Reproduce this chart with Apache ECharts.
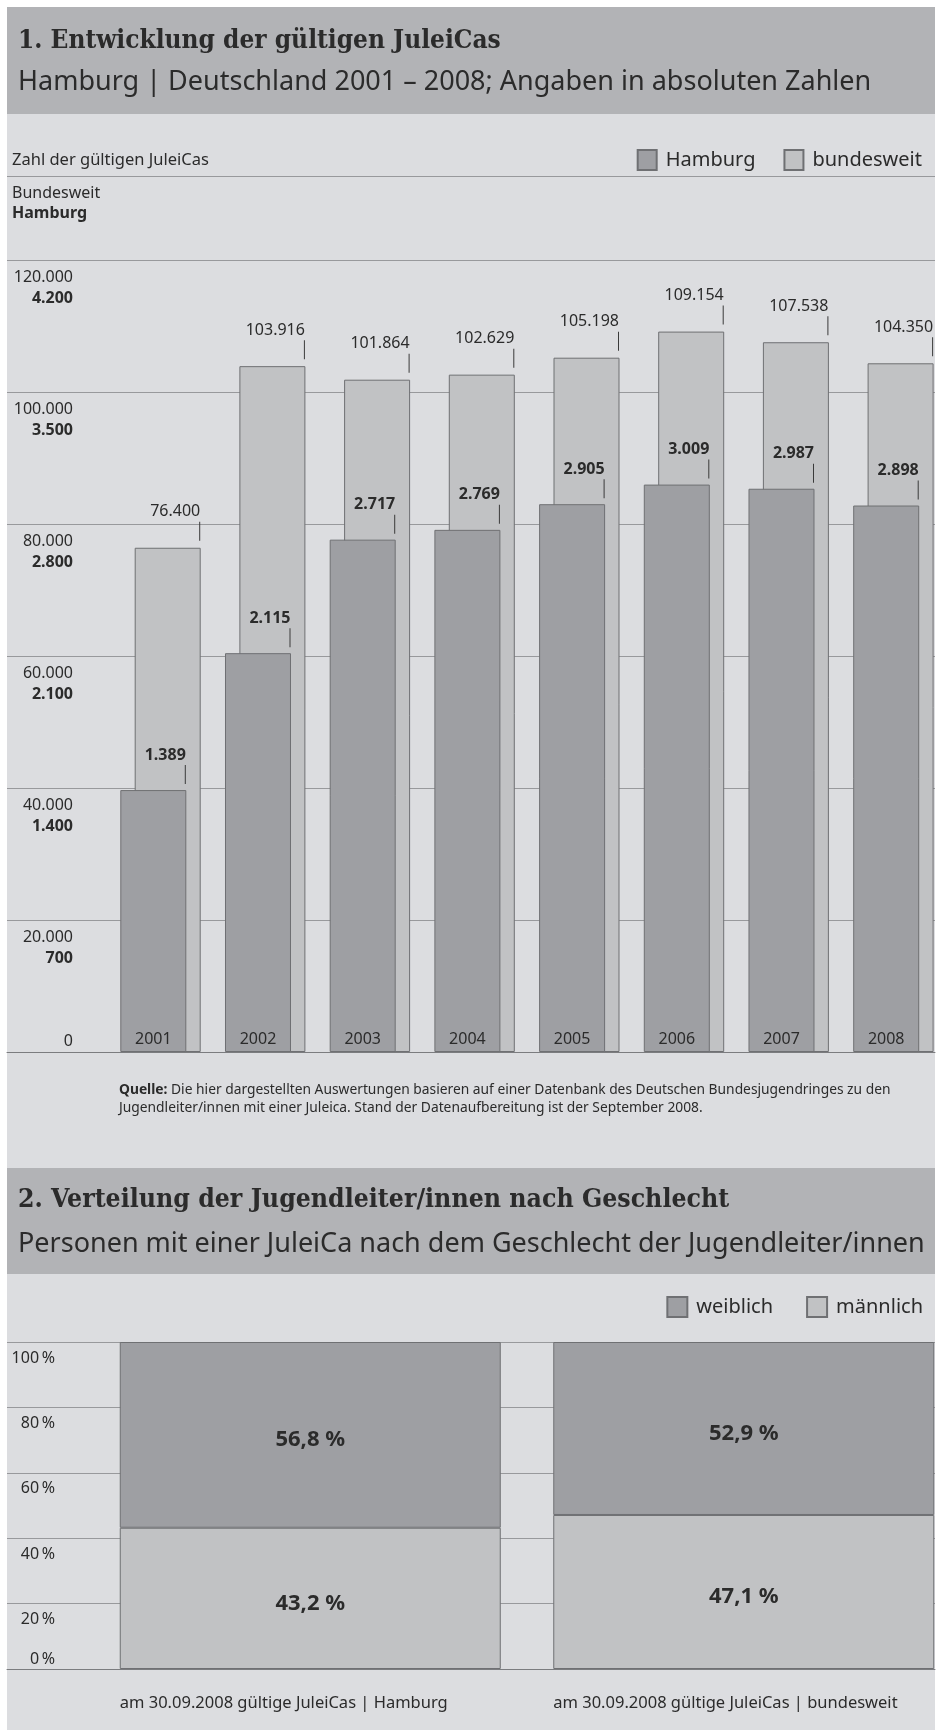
<!DOCTYPE html>
<html>
<head>
<meta charset="utf-8">
<script src="https://cdn.jsdelivr.net/npm/echarts@6/dist/echarts.min.js"></script>
<style>
  html, body { margin: 0; padding: 0; background: #ffffff; }
  #chart { width: 938px; height: 1730px; }
</style>
</head>
<body>
<div id="chart"></div>
<script>
// ---------- data ----------
const years = ['2001', '2002', '2003', '2004', '2005', '2006', '2007', '2008'];
const hamburg = [1389, 2115, 2717, 2769, 2905, 3009, 2987, 2898];
const bundesweit = [76400, 103916, 101864, 102629, 105198, 109154, 107538, 104350];
const ticksBund = [0, 20000, 40000, 60000, 80000, 100000, 120000];
const ticksHH = [0, 700, 1400, 2100, 2800, 3500, 4200];

const genderCats = ['am 30.09.2008 gültige JuleiCas | Hamburg', 'am 30.09.2008 gültige JuleiCas | bundesweit'];
const weiblich = [56.8, 52.9];
const maennlich = [43.2, 47.1];
const pctTicks = [0, 20, 40, 60, 80, 100];

// ---------- styles ----------
const FONT = '"Noto Sans", "Open Sans", sans-serif';
const SERIF = '"DejaVu Serif Condensed", "Liberation Serif", serif';
const TXT = '#2b2b2b';
const PANEL = '#dcdde0';
const HEAD = '#b2b3b6';
const DARK = '#9e9fa3';
const LIGHT = '#c1c2c4';
const BORDER = '#6f7073';
const GRIDC = '#98999c';
const BASEC = '#7b7c7f';

function de(n) { return String(n).replace(/\B(?=(\d{3})+(?!\d))/g, '.'); }

const chart = echarts.init(document.getElementById('chart'), null, { renderer: 'canvas' });

const option = {
  backgroundColor: '#ffffff',
  animation: false,
  graphic: [
    { type: 'rect', z: -10, shape: { x: 7, y: 7, width: 928, height: 1723 }, style: { fill: PANEL } },
    { type: 'rect', z: -9, shape: { x: 7, y: 7, width: 928, height: 107 }, style: { fill: HEAD } },
    { type: 'rect', z: -9, shape: { x: 7, y: 1168, width: 928, height: 106 }, style: { fill: HEAD } },
    { type: 'line', z: -8, shape: { x1: 7, y1: 176.5, x2: 935, y2: 176.5 }, style: { stroke: GRIDC, lineWidth: 1 } }
  ],
  title: [
    { text: '1. Entwicklung der gültigen JuleiCas', left: 18, top: 25, padding: 0,
      textStyle: { fontFamily: SERIF, fontWeight: 'bold', fontSize: 26, lineHeight: 32, color: TXT } },
    { text: 'Hamburg | Deutschland 2001 – 2008; Angaben in absoluten Zahlen', left: 18, top: 66, padding: 0,
      textStyle: { fontFamily: FONT, fontWeight: 'normal', fontSize: 27, lineHeight: 32, color: TXT } },
    { text: 'Zahl der gültigen JuleiCas', left: 12, top: 150, padding: 0,
      textStyle: { fontFamily: FONT, fontWeight: 'normal', fontSize: 16.5, lineHeight: 20, color: TXT } },
    { text: '{b|Quelle:} Die hier dargestellten Auswertungen basieren auf einer Datenbank des Deutschen Bundesjugendringes zu den\nJugendleiter/innen mit einer Juleica. Stand der Datenaufbereitung ist der September 2008.',
      left: 119, top: 1081, padding: 0,
      textStyle: { fontFamily: FONT, fontWeight: 'normal', fontSize: 13.8, lineHeight: 18, color: TXT,
        rich: { b: { fontFamily: FONT, fontWeight: 'bold', fontSize: 13.8, lineHeight: 18, color: TXT } } } },
    { text: '2. Verteilung der Jugendleiter/innen nach Geschlecht', left: 18, top: 1184, padding: 0,
      textStyle: { fontFamily: SERIF, fontWeight: 'bold', fontSize: 26.4, lineHeight: 32, color: TXT } },
    { text: 'Personen mit einer JuleiCa nach dem Geschlecht der Jugendleiter/innen', left: 18, top: 1228, padding: 0,
      textStyle: { fontFamily: FONT, fontWeight: 'normal', fontSize: 27, lineHeight: 32, color: TXT } }
  ],
  legend: [
    { data: ['Hamburg', 'bundesweit'], right: 11, top: 144, icon: 'rect', itemWidth: 19, itemHeight: 20, itemGap: 28,
      textStyle: { fontFamily: FONT, fontSize: 20, color: TXT, padding: [0, 0, 0, 4] } },
    { data: ['weiblich', 'männlich'], right: 10, top: 1291, icon: 'rect', itemWidth: 20, itemHeight: 20, itemGap: 33,
      textStyle: { fontFamily: FONT, fontSize: 20, color: TXT, padding: [0, 0, 0, 4] } }
  ],
  grid: [
    { left: 7, width: 928, top: 260, height: 792, outerBoundsMode: 'none' },          // 0: chart 1 gridlines & labels
    { left: 108.15, width: 837.6, top: 260, height: 792, outerBoundsMode: 'none' },   // 1: chart 1 bars
    { left: 7, width: 928, top: 1342, height: 327, outerBoundsMode: 'none' },         // 2: chart 2 gridlines & labels
    { left: 93.5, width: 867, top: 1342, height: 327, outerBoundsMode: 'none' }       // 3: chart 2 bars
  ],
  xAxis: [
    { gridIndex: 0, type: 'value', position: 'bottom', min: 0, max: 1, axisLabel: { show: false }, axisTick: { show: false },
      splitLine: { show: false }, axisLine: { show: true, lineStyle: { color: BASEC, width: 1 } } },
    { gridIndex: 1, type: 'category', position: 'bottom', data: years, z: 10, axisLine: { show: false }, axisTick: { show: false },
      axisLabel: { inside: true, margin: 3, padding: [0, 14.4, 0, 0], fontFamily: FONT, fontSize: 16, lineHeight: 20, color: TXT } },
    { gridIndex: 2, type: 'value', position: 'bottom', min: 0, max: 1, axisLabel: { show: false }, axisTick: { show: false },
      splitLine: { show: false }, axisLine: { show: true, lineStyle: { color: BASEC, width: 1 } } },
    { gridIndex: 3, type: 'category', position: 'bottom', data: genderCats, axisLine: { show: false }, axisTick: { show: false },
      axisLabel: { margin: 24, formatter: v => '{c|' + v + '}',
        rich: { c: { width: 381, align: 'left', fontFamily: FONT, fontSize: 16.5, lineHeight: 20, color: TXT } } } }
  ],
  yAxis: [
    { gridIndex: 0, type: 'value', position: 'left', min: 0, max: 120000, interval: 20000,
      axisLine: { show: false }, axisTick: { show: false },
      splitLine: { show: true, lineStyle: { color: GRIDC, width: 1 } },
      name: '{a|Bundesweit}\n{b|Hamburg}', nameLocation: 'end', nameGap: 37,
      nameTextStyle: { align: 'left', verticalAlign: 'bottom', padding: [0, 0, 0, 5],
        rich: { a: { fontFamily: FONT, fontSize: 16, lineHeight: 20, color: TXT },
                b: { fontFamily: FONT, fontSize: 16, fontWeight: 'bold', lineHeight: 20, color: TXT } } },
      axisLabel: { inside: true, margin: 66, align: 'right', verticalAlign: 'top', padding: [7, 0, 0, 0],
        formatter: function (v) {
          if (v === 0) return '';
          const i = ticksBund.indexOf(v);
          return '{a|' + de(v) + '}\n{b|' + de(ticksHH[i]) + '}';
        },
        rich: { a: { fontFamily: FONT, fontSize: 16, lineHeight: 21, color: TXT, align: 'right' },
                b: { fontFamily: FONT, fontSize: 16, fontWeight: 'bold', lineHeight: 21, color: TXT, align: 'right' } } } },
    { gridIndex: 0, type: 'value', position: 'left', min: 0, max: 120000, interval: 20000,
      axisLine: { show: false }, axisTick: { show: false }, splitLine: { show: false },
      axisLabel: { inside: true, margin: 66, align: 'right', verticalAlign: 'bottom',
        formatter: v => (v === 0 ? de(ticksBund[0]) : ''),
        fontFamily: FONT, fontSize: 16, lineHeight: 21, color: TXT } },
    { gridIndex: 1, type: 'value', position: 'left', min: 0, max: 120000, show: false },
    { gridIndex: 1, type: 'value', position: 'left', min: 0, max: 4200, show: false },
    { gridIndex: 2, type: 'value', position: 'left', min: 0, max: 100, interval: 20,
      axisLine: { show: false }, axisTick: { show: false },
      splitLine: { show: true, lineStyle: { color: GRIDC, width: 1 } },
      axisLabel: { inside: true, margin: 48, align: 'right', verticalAlign: 'top', padding: [6, 0, 0, 0],
        formatter: v => (v === 0 ? '' : v + '\u202f%'),
        fontFamily: FONT, fontSize: 16, lineHeight: 20, color: TXT } },
    { gridIndex: 2, type: 'value', position: 'left', min: 0, max: 100, interval: 20,
      axisLine: { show: false }, axisTick: { show: false }, splitLine: { show: false },
      axisLabel: { inside: true, margin: 48, align: 'right', verticalAlign: 'bottom',
        formatter: v => (v === 0 ? pctTicks[0] + '\u202f%' : ''),
        fontFamily: FONT, fontSize: 16, lineHeight: 20, color: TXT } },
    { gridIndex: 3, type: 'value', position: 'left', min: 0, max: 100, show: false }
  ],
  series: [
    { name: 'Hamburg', type: 'bar', xAxisIndex: 1, yAxisIndex: 3, data: hamburg, z: 3,
      barWidth: 66, barGap: '-78.18%',
      itemStyle: { color: DARK, borderColor: BORDER, borderWidth: 1 },
      label: { show: true, position: ['100%', 0], align: 'right', verticalAlign: 'bottom', offset: [-0.5, -6],
        formatter: p => '{v|' + de(p.value) + '}\n{t| }',
        rich: { v: { fontFamily: FONT, fontSize: 16, fontWeight: 'bold', lineHeight: 20, color: TXT },
                t: { width: 1, height: 19, lineHeight: 19, fontSize: 1, backgroundColor: '#3a3a3a' } } } },
    { name: 'bundesweit', type: 'bar', xAxisIndex: 1, yAxisIndex: 2, data: bundesweit, z: 2,
      barWidth: 66, barGap: '-78.18%',
      itemStyle: { color: LIGHT, borderColor: BORDER, borderWidth: 1 },
      label: { show: true, position: ['100%', 0], align: 'right', verticalAlign: 'bottom', offset: [-0.5, -7],
        formatter: p => '{v|' + de(p.value) + '}\n{t| }',
        rich: { v: { fontFamily: FONT, fontSize: 16, lineHeight: 20, color: TXT },
                t: { width: 1, height: 19, lineHeight: 19, fontSize: 1, backgroundColor: '#3a3a3a' } } } },
    { name: 'männlich', type: 'bar', stack: 'g', xAxisIndex: 3, yAxisIndex: 6, data: maennlich, barWidth: 381,
      itemStyle: { color: LIGHT, borderColor: BORDER, borderWidth: 1 },
      label: { show: true, position: 'inside', offset: [0, 5], formatter: p => String(p.value).replace('.', ',') + ' %',
        fontFamily: FONT, fontSize: 22, fontWeight: 'bold', color: TXT } },
    { name: 'weiblich', type: 'bar', stack: 'g', xAxisIndex: 3, yAxisIndex: 6, data: weiblich, barWidth: 381,
      itemStyle: { color: DARK, borderColor: BORDER, borderWidth: 1 },
      label: { show: true, position: 'inside', offset: [0, 5], formatter: p => String(p.value).replace('.', ',') + ' %',
        fontFamily: FONT, fontSize: 22, fontWeight: 'bold', color: TXT } }
  ]
};
chart.setOption(option);
</script>
</body>
</html>
